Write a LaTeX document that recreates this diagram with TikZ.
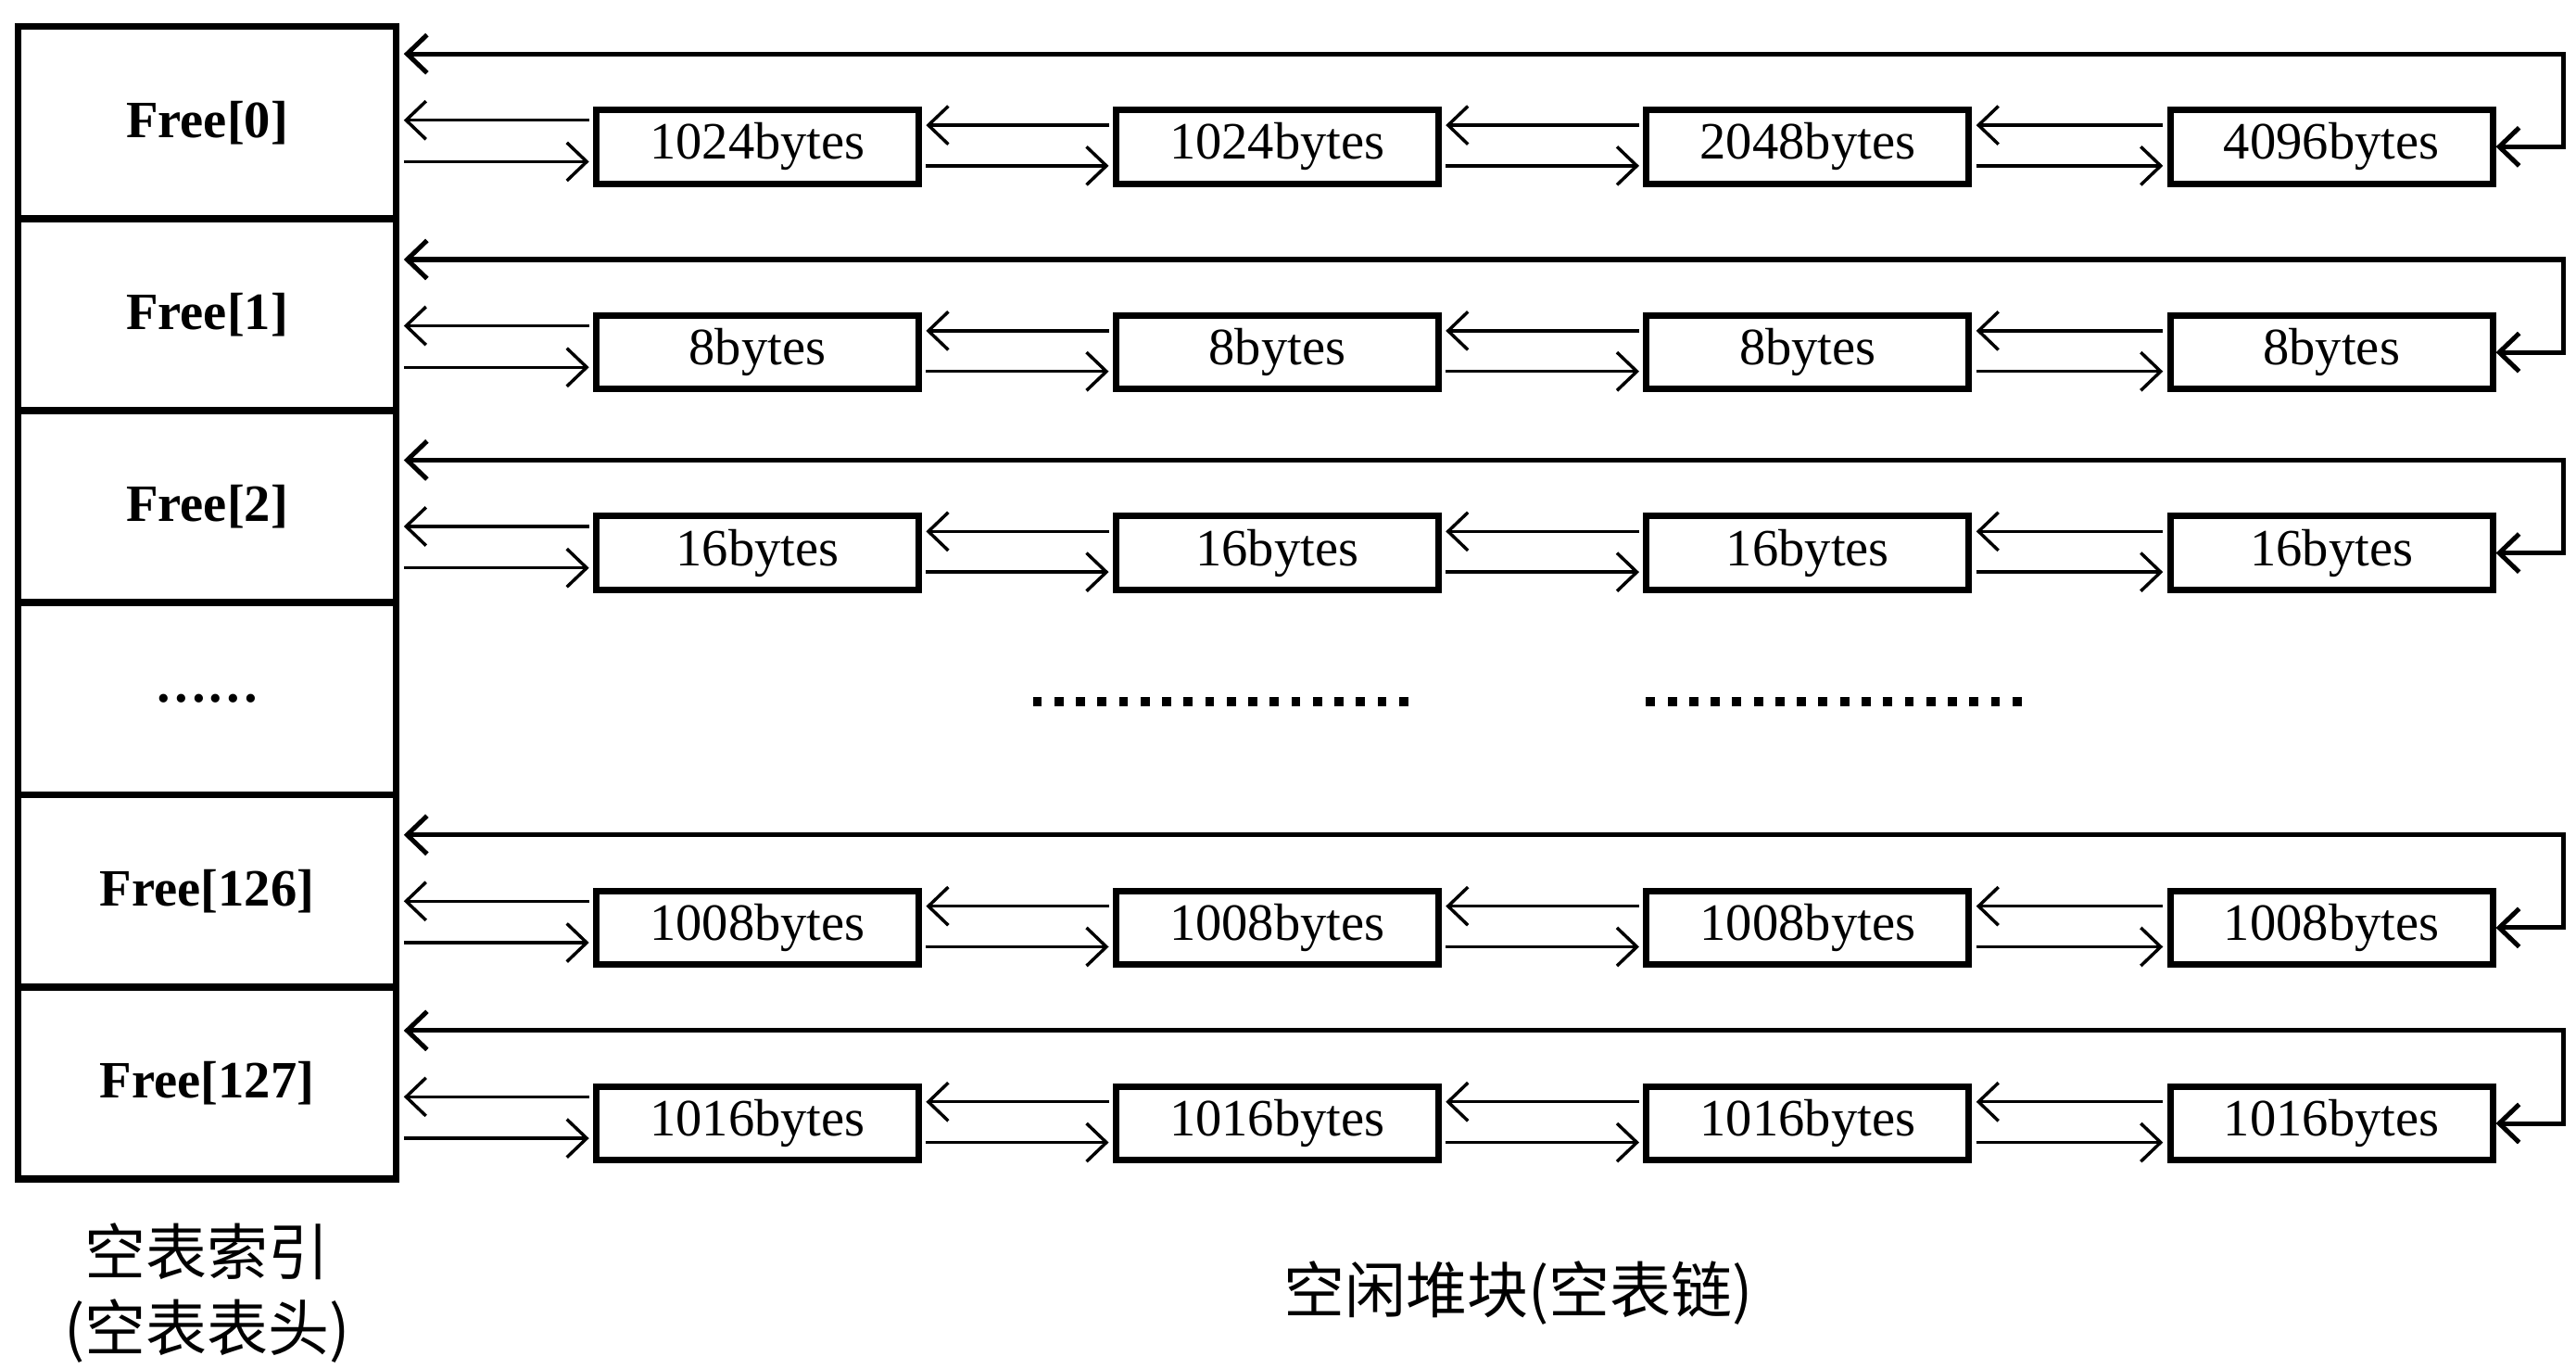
\documentclass[tikz,border=0pt]{standalone}
\usepackage{fontspec}
\setmainfont{Liberation Serif}
\newfontfamily\cjk{Noto Sans CJK SC}
\usetikzlibrary{arrows.meta}

\begin{document}
\begin{tikzpicture}[x=0.02cm, y=-0.02cm,
  head/.style={draw, line width=2.4pt, minimum width=4.56cm, minimum height=2.316cm, inner sep=0pt, font=\fontsize{18}{20}\selectfont\bfseries},
  blk/.style={draw, line width=2.2pt, minimum width=3.89cm, minimum height=0.89cm, inner sep=0pt, font=\fontsize{18}{20}\selectfont},
  lnk/.style={line width=1.1pt, shorten <=0.05cm, shorten >=0.05cm, -{Straight Barb[length=0.24cm,width=0.46cm]}},
  back/.style={line width=1.6pt, shorten <=0.05cm, {Straight Barb[length=0.24cm,width=0.46cm]}-{Straight Barb[length=0.24cm,width=0.46cm]}},
  lbl/.style={font=\cjk\fontsize{21}{26}\selectfont, align=center}]

\useasboundingbox (0,0) rectangle (1554,825.6);

\foreach \r/\y/\t in {0/73.9/Free[0], 1/189.8/Free[1], 2/305.6/Free[2], 3/421.4/……, 126/537.3/Free[126], 127/653.1/Free[127]}
  \node[head] (f\r) at (125,\y) {\t};

\foreach \r/\y/\a/\b/\c/\d in {0/88.5/1024/1024/2048/4096, 1/212.5/8/8/8/8, 2/333.5/16/16/16/16, 126/559.5/1008/1008/1008/1008, 127/677.5/1016/1016/1016/1016}{
  \node[blk] (b\r-1) at (457,\y) {\a bytes};
  \node[blk] (b\r-2) at (770.5,\y) {\b bytes};
  \node[blk] (b\r-3) at (1090.5,\y) {\c bytes};
  \node[blk] (b\r-4) at (1406.5,\y) {\d bytes};
  \coordinate (p) at ([yshift=0.32cm]b\r-1.west);
  \draw[lnk] (p) -- (p -| f\r.east);
  \coordinate (q) at ([yshift=-0.18cm]b\r-1.west);
  \draw[lnk] (q -| f\r.east) -- (q);
  \foreach \i/\j in {1/2, 2/3, 3/4}{
    \coordinate (p) at ([yshift=0.26cm]b\r-\j.west);
    \draw[lnk] (p) -- (p -| b\r-\i.east);
    \coordinate (q) at ([yshift=-0.23cm]b\r-\j.west);
    \draw[lnk] (q -| b\r-\i.east) -- (q);
  }
  \coordinate (t) at ([xshift=0.82cm, yshift=1.12cm]b\r-4.east);
  \draw[back] (t -| f\r.east) -- (t) |- (b\r-4.east);
}

\foreach \s in {623, 993}
  \foreach \k in {0,...,17}
    \fill (\s+13*\k,420.5) rectangle +(5.5,5.5);

\node[lbl] (idx) at (125,780) {空表索引\\(空表表头)};
\node[lbl] (heap) at (916,780) {空闲堆块(空表链)};
\end{tikzpicture}
\end{document}
